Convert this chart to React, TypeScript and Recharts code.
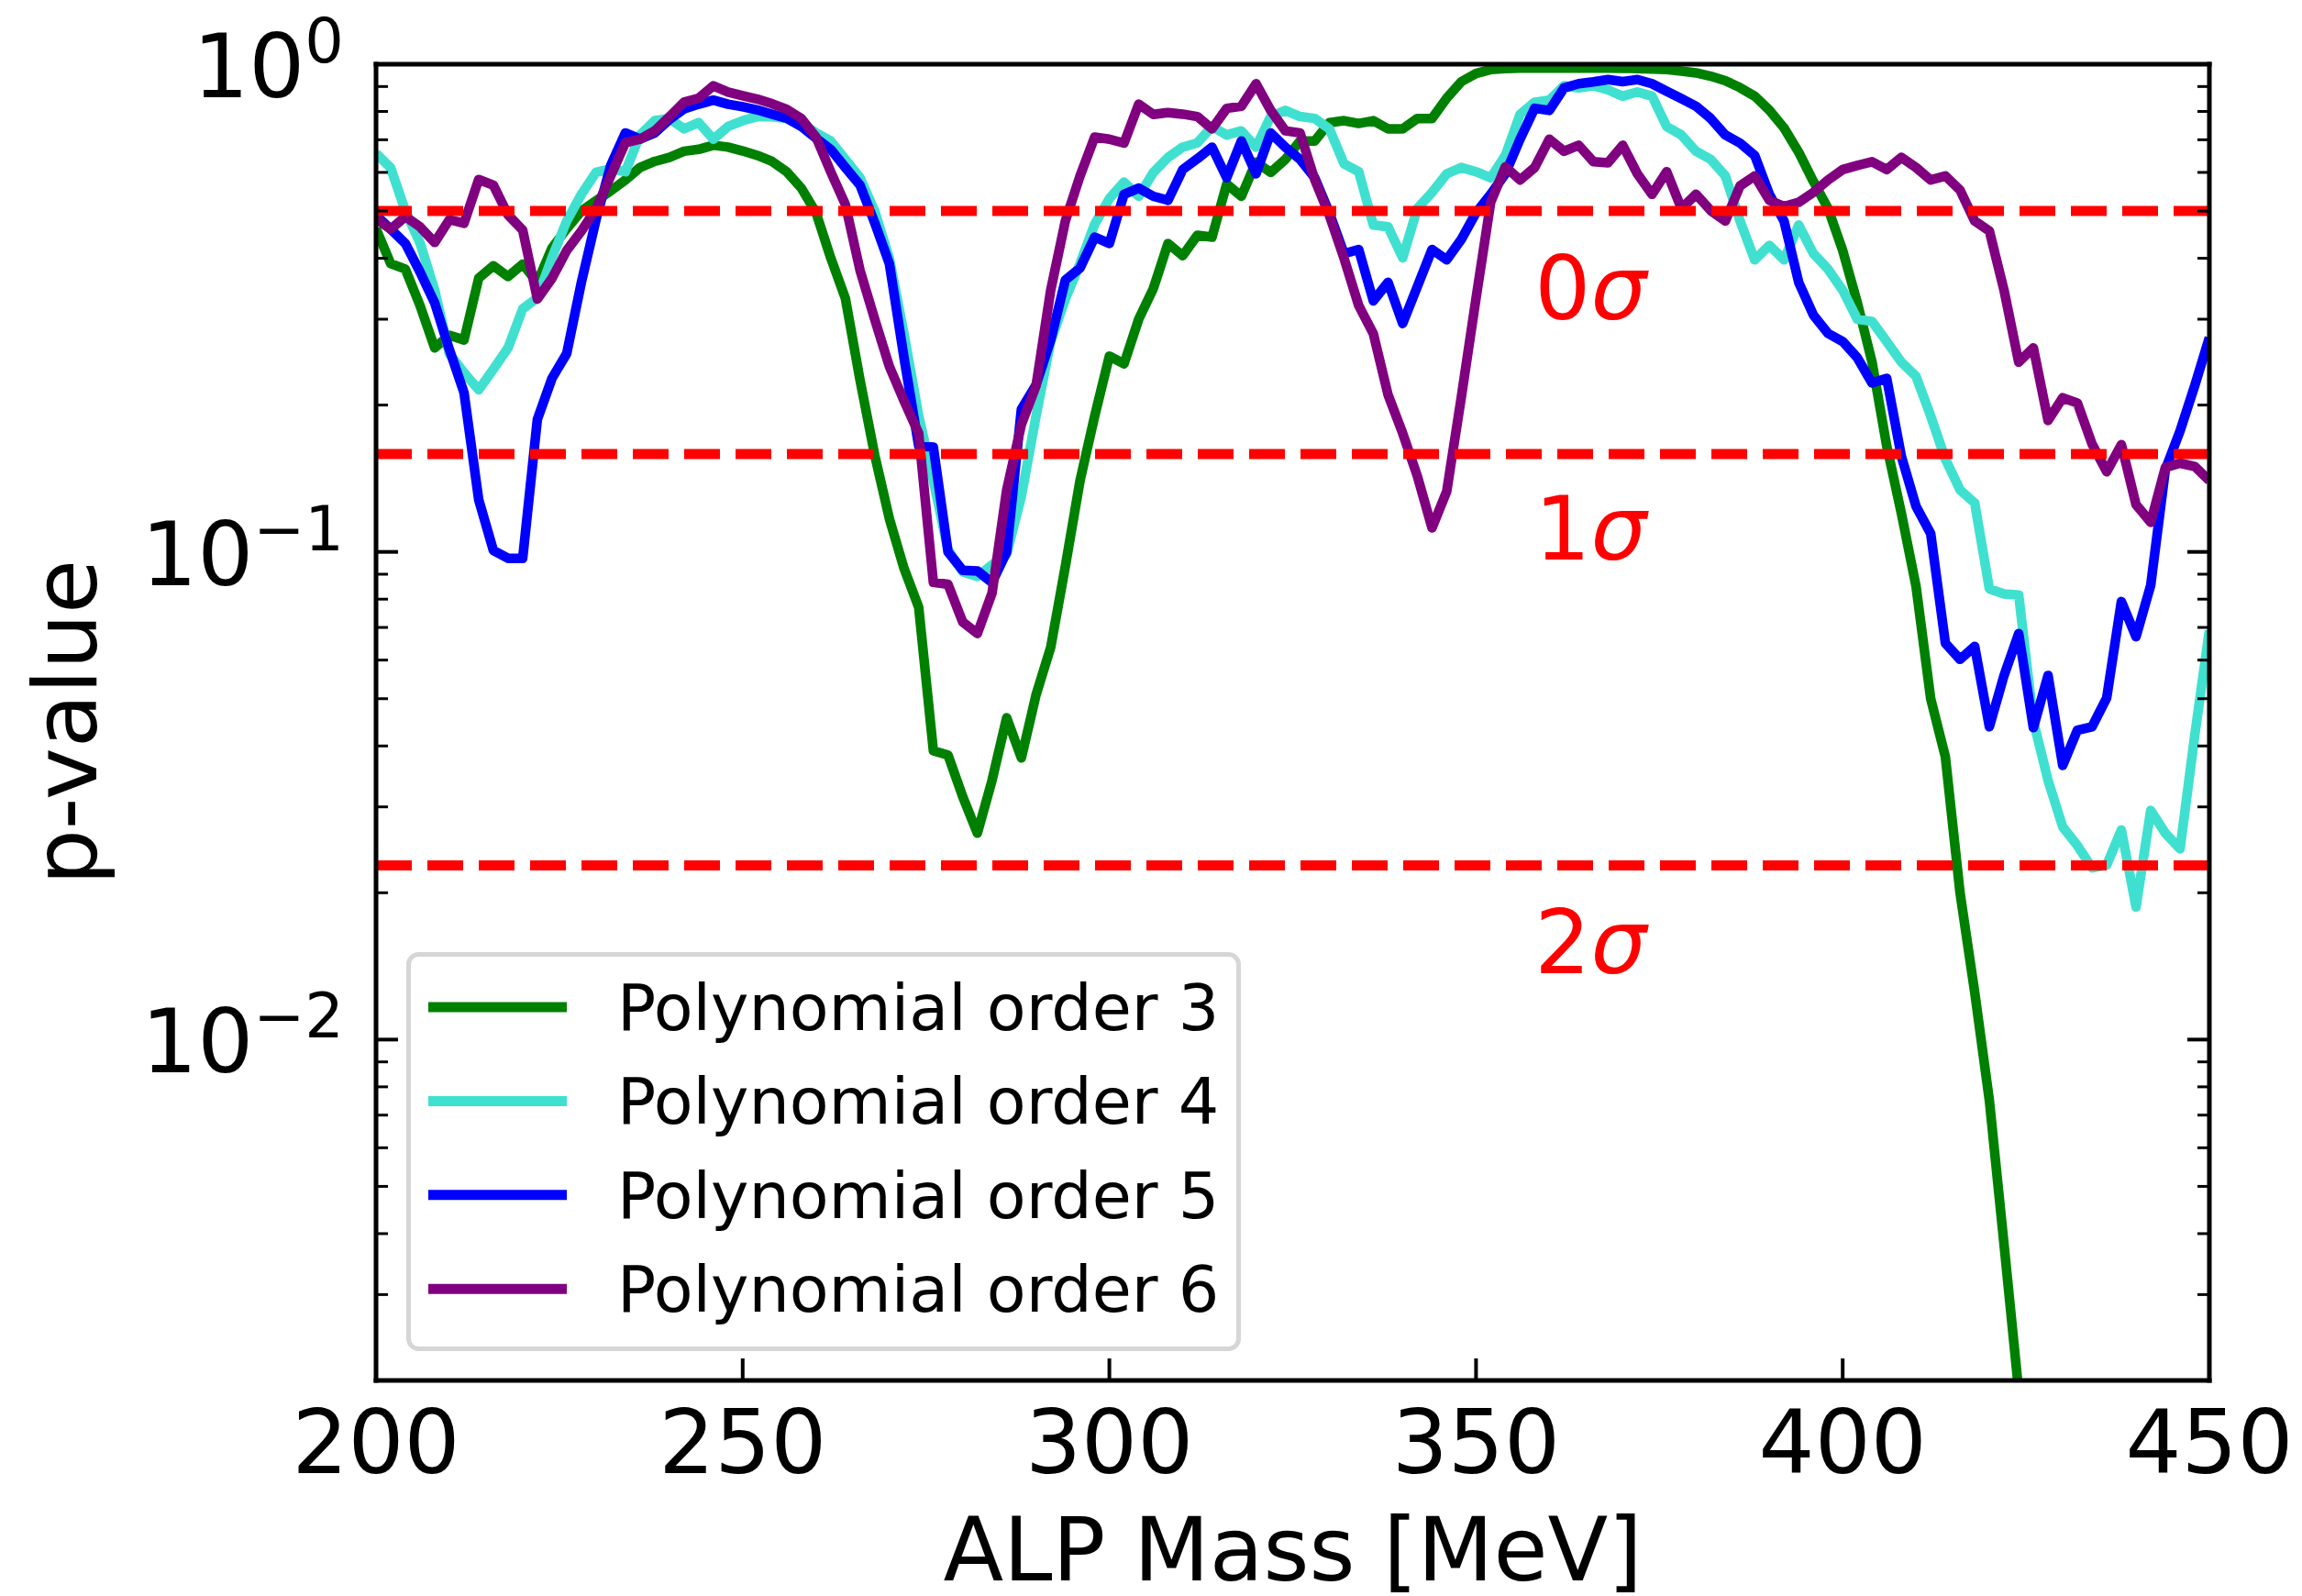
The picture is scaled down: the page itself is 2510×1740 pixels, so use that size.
import React from 'react';
import { LineChart, Line, XAxis, YAxis, ReferenceLine, ReferenceDot, Legend } from 'recharts';

const FONT = '"DejaVu Sans", sans-serif';

// ALP mass grid [MeV]
const MASS = [
  200, 202, 204, 206, 208, 210, 212, 214, 216, 218,
  220, 222, 224, 226, 228, 230, 232, 234, 236, 238,
  240, 242, 244, 246, 248, 250, 252, 254, 256, 258,
  260, 262, 264, 266, 268, 270, 272, 274, 276, 278,
  280, 282, 284, 286, 288, 290, 292, 294, 296, 298,
  300, 302, 304, 306, 308, 310, 312, 314, 316, 318,
  320, 322, 324, 326, 328, 330, 332, 334, 336, 338,
  340, 342, 344, 346, 348, 350, 352, 354, 356, 358,
  360, 362, 364, 366, 368, 370, 372, 374, 376, 378,
  380, 382, 384, 386, 388, 390, 392, 394, 396, 398,
  400, 402, 404, 406, 408, 410, 412, 414, 416, 418,
  420, 422, 424, 426, 428, 430, 432, 434, 436, 438,
  440, 442, 444, 446, 448, 450,
];

const ORDER3 = [
  0.46, 0.39, 0.38, 0.32, 0.262, 0.278, 0.272, 0.364, 0.386, 0.367,
  0.389, 0.357, 0.42, 0.46, 0.5, 0.525, 0.55, 0.579, 0.614, 0.632,
  0.644, 0.663, 0.669, 0.682, 0.676, 0.664, 0.65, 0.632, 0.602, 0.557,
  0.496, 0.401, 0.331, 0.225, 0.158, 0.117, 0.0925, 0.077, 0.0391, 0.0383,
  0.0315, 0.0265, 0.034, 0.0457, 0.0378, 0.0509, 0.0637, 0.0935, 0.14, 0.19,
  0.252, 0.243, 0.3, 0.347, 0.429, 0.405, 0.446, 0.442, 0.568, 0.536,
  0.63, 0.6, 0.638, 0.696, 0.696, 0.759, 0.766, 0.756, 0.766, 0.737,
  0.737, 0.774, 0.774, 0.852, 0.921, 0.957, 0.975, 0.98, 0.982, 0.982,
  0.982, 0.982, 0.982, 0.982, 0.982, 0.981, 0.98, 0.978, 0.975, 0.968,
  0.96, 0.945, 0.925, 0.895, 0.86, 0.805, 0.74, 0.66, 0.575, 0.506,
  0.415, 0.324, 0.245, 0.165, 0.12, 0.085, 0.05, 0.038, 0.02, 0.0125,
  0.0075, 0.0038, 0.0019, 0.0011, null, null, null, null, null, null,
  null, null, null, null, null, null,
];

const ORDER4 = [
  0.656, 0.613, 0.5, 0.43, 0.344, 0.255, 0.233, 0.215, 0.237, 0.262,
  0.315, 0.332, 0.401, 0.477, 0.541, 0.6, 0.61, 0.602, 0.716, 0.766,
  0.774, 0.737, 0.759, 0.702, 0.745, 0.766, 0.781, 0.78, 0.774, 0.759,
  0.723, 0.696, 0.638, 0.585, 0.5, 0.4, 0.28, 0.19, 0.14, 0.101,
  0.091, 0.089, 0.094, 0.099, 0.13, 0.19, 0.27, 0.33, 0.39, 0.47,
  0.53, 0.573, 0.536, 0.6, 0.644, 0.676, 0.69, 0.745, 0.716, 0.73,
  0.676, 0.781, 0.804, 0.781, 0.774, 0.737, 0.625, 0.602, 0.468, 0.464,
  0.401, 0.506, 0.546, 0.596, 0.614, 0.602, 0.585, 0.65, 0.789, 0.836,
  0.844, 0.903, 0.894, 0.903, 0.886, 0.86, 0.877, 0.86, 0.745, 0.716,
  0.663, 0.638, 0.59, 0.477, 0.397, 0.425, 0.397, 0.468, 0.409, 0.38,
  0.344, 0.3, 0.297, 0.27, 0.245, 0.229, 0.19, 0.155, 0.134, 0.126,
  0.084, 0.082, 0.0816, 0.045, 0.034, 0.0273, 0.025, 0.0225, 0.0228, 0.0269,
  0.0187, 0.0295, 0.0265, 0.0246, 0.042, 0.069,
];

const ORDER5 = [
  0.49, 0.459, 0.429, 0.375, 0.324, 0.26, 0.212, 0.128, 0.1007, 0.097,
  0.097, 0.187, 0.227, 0.255, 0.357, 0.48, 0.62, 0.723, 0.702, 0.723,
  0.77, 0.81, 0.828, 0.844, 0.828, 0.818, 0.806, 0.79, 0.775, 0.745,
  0.705, 0.669, 0.614, 0.565, 0.473, 0.39, 0.25, 0.165, 0.164, 0.1,
  0.0917, 0.0914, 0.0865, 0.1, 0.196, 0.22, 0.272, 0.361, 0.382, 0.442,
  0.429, 0.541, 0.557, 0.536, 0.526, 0.608, 0.64, 0.676, 0.585, 0.696,
  0.596, 0.723, 0.676, 0.638, 0.585, 0.496, 0.409, 0.417, 0.327, 0.357,
  0.294, 0.35, 0.417, 0.397, 0.4375, 0.496, 0.541, 0.596, 0.702, 0.812,
  0.804, 0.894, 0.912, 0.92, 0.93, 0.921, 0.93, 0.912, 0.88, 0.85,
  0.82, 0.774, 0.716, 0.689, 0.65, 0.541, 0.477, 0.357, 0.306, 0.2805,
  0.27, 0.25, 0.222, 0.227, 0.157, 0.124, 0.109, 0.065, 0.0602, 0.064,
  0.0438, 0.0558, 0.068, 0.0436, 0.0558, 0.0365, 0.0431, 0.0438, 0.0502, 0.0791,
  0.067, 0.0854, 0.1475, 0.177, 0.219, 0.275,
];

const ORDER6 = [
  0.482, 0.459, 0.487, 0.464, 0.431, 0.48, 0.472, 0.58, 0.565, 0.491,
  0.457, 0.33, 0.364, 0.415, 0.455, 0.505, 0.59, 0.69, 0.702, 0.73,
  0.78, 0.836, 0.852, 0.903, 0.877, 0.862, 0.848, 0.83, 0.808, 0.774,
  0.709, 0.602, 0.516, 0.378, 0.3, 0.24, 0.204, 0.175, 0.0866, 0.0858,
  0.0718, 0.068, 0.0823, 0.134, 0.1824, 0.219, 0.344, 0.477, 0.59, 0.709,
  0.702, 0.689, 0.828, 0.789, 0.796, 0.79, 0.781, 0.737, 0.812, 0.82,
  0.912, 0.804, 0.73, 0.723, 0.58, 0.49, 0.4, 0.32, 0.28, 0.21,
  0.175, 0.143, 0.112, 0.133, 0.208, 0.331, 0.521, 0.616, 0.579, 0.614,
  0.702, 0.663, 0.682, 0.631, 0.628, 0.682, 0.596, 0.541, 0.602, 0.506,
  0.541, 0.501, 0.477, 0.563, 0.59, 0.526, 0.511, 0.521, 0.546, 0.579,
  0.608, 0.62, 0.631, 0.608, 0.644, 0.614, 0.579, 0.59, 0.552, 0.477,
  0.455, 0.344, 0.245, 0.262, 0.186, 0.207, 0.202, 0.1665, 0.146, 0.166,
  0.125, 0.115, 0.149, 0.152, 0.1497, 0.14,
];

const SERIES_NAMES = ['Polynomial order 3', 'Polynomial order 4', 'Polynomial order 5', 'Polynomial order 6'];
const SERIES_COLORS = ['#008000', '#40e0d0', '#0000ff', '#800080'];
const SERIES_VALUES = [ORDER3, ORDER4, ORDER5, ORDER6];

const X_TICKS = [200, 250, 300, 350, 400, 450];
const Y_TICKS = [
  0.003, 0.004, 0.005, 0.006, 0.007, 0.008, 0.009,
  0.01, 0.02, 0.03, 0.04, 0.05, 0.06, 0.07, 0.08, 0.09,
  0.1, 0.2, 0.3, 0.4, 0.5, 0.6, 0.7, 0.8, 0.9, 1,
];
const X_DOMAIN = [200, 450];
const Y_DOMAIN = [0.002, 1];

// significance levels (one-sided p-values) and their labels
const SIGMA_P = [0.5, 0.1587, 0.02275];
const SIGMA_TEXT = ['0', '1', '2'];
const SIGMA_LABEL_MASS = 358;
const SIGMA_LABEL_P = [0.3, 0.0965, 0.0137];

const CHART_W = 2494;
const CHART_H = 1732;
const LEFT_W = 402;
const RIGHT_W = 93;
const TOP_H = 62;
const BOTTOM_H = 235;

const MAJOR = 24;
const MINOR = 13;

const isMajor = (v: number) => {
  const e = Math.log10(v);
  return Math.abs(e - Math.round(e)) < 1e-9;
};

const BottomTick = (props: any) => {
  const { x, y, payload } = props;
  return (
    <g>
      <line x1={x} y1={y} x2={x} y2={y - MAJOR} stroke="#000" strokeWidth={4} />
      <text x={x} y={y + 101} textAnchor="middle" fontSize={96} fontFamily={FONT} fill="#000">
        {payload.value}
      </text>
    </g>
  );
};

const TopTick = (props: any) => {
  const { x, y } = props;
  return <line x1={x} y1={y} x2={x} y2={y + MAJOR} stroke="#000" strokeWidth={4} />;
};

const LeftTick = (props: any) => {
  const { x, y, payload } = props;
  const v = payload.value as number;
  const major = isMajor(v);
  const e = Math.round(Math.log10(v));
  const expText = e < 0 ? '\u2212' + String(-e) : String(e);
  return (
    <g>
      <line x1={x} y1={y} x2={x + (major ? MAJOR : MINOR)} y2={y} stroke="#000" strokeWidth={major ? 4 : 3} />
      {major && (
        <text x={x - 35} y={y + 36} textAnchor="end" fontSize={96} fontFamily={FONT} fill="#000">
          10
          <tspan dy={-38} fontSize={67}>{expText}</tspan>
        </text>
      )}
    </g>
  );
};

const RightTick = (props: any) => {
  const { x, y, payload } = props;
  const major = isMajor(payload.value as number);
  return (
    <line x1={x} y1={y} x2={x - (major ? MAJOR : MINOR)} y2={y} stroke="#000" strokeWidth={major ? 4 : 3} />
  );
};

const XTitle = (props: any) => {
  const vb = props.viewBox;
  return (
    <text x={vb.x + vb.width / 2} y={vb.y + 218} textAnchor="middle" fontSize={96} fontFamily={FONT} fill="#000">
      ALP Mass [MeV]
    </text>
  );
};

const YTitle = (props: any) => {
  const vb = props.viewBox;
  const cx = vb.x + 97;
  const cy = vb.y + vb.height / 2;
  return (
    <text x={cx} y={cy} transform={`rotate(-90, ${cx}, ${cy})`} textAnchor="middle" fontSize={96} fontFamily={FONT} fill="#000">
      p-value
    </text>
  );
};

const makeSigmaLabel = (n: string) => (props: any) => {
  const vb = props.viewBox;
  return (
    <text x={vb.x} y={vb.y} textAnchor="start" fontSize={96} fontFamily={FONT} fill="#ff0000">
      {n}
      <tspan fontStyle="italic">σ</tspan>
    </text>
  );
};

const LEG_W = 912;
const LEG_H = 437;

const renderLegend = (props: any) => {
  const payload = (props && props.payload && props.payload.length === 4)
    ? props.payload
    : SERIES_NAMES.map((n, i) => ({ value: n, color: SERIES_COLORS[i] }));
  return (
    <svg width={LEG_W} height={LEG_H} style={{ display: 'block' }}>
      <rect x={2.5} y={2.5} width={LEG_W - 7} height={LEG_H - 7} rx={11} ry={11}
        fill="rgba(255,255,255,0.8)" stroke="#d6d6d6" strokeWidth={5} />
      {payload.map((entry: any, i: number) => {
        const cy = 60 + i * 102.4;
        return (
          <g key={entry.value}>
            <line x1={24} x2={175} y1={cy} y2={cy} stroke={entry.color} strokeWidth={11} />
            <text x={230} y={cy + 25} fontSize={70} fontFamily={FONT} fill="#000">{entry.value}</text>
          </g>
        );
      })}
    </svg>
  );
};

export default function App() {
  const seriesData = SERIES_VALUES.map((vals) =>
    MASS.map((m, i) => ({ m, p: vals[i] })).filter((d) => d.p !== null && d.p !== undefined)
  );
  const axisLine = { stroke: '#000', strokeWidth: 5, strokeLinecap: 'square' as const };

  return (
    <div style={{ width: CHART_W, height: CHART_H, background: '#fff' }}>
      <LineChart width={CHART_W} height={CHART_H} margin={{ top: 0, right: 0, bottom: 0, left: 0 }}>
        <XAxis
          xAxisId={0}
          dataKey="m"
          type="number"
          domain={X_DOMAIN}
          allowDataOverflow
          ticks={X_TICKS}
          interval={0}
          height={BOTTOM_H}
          tickSize={0}
          tickMargin={0}
          tickLine={false}
          axisLine={axisLine}
          tick={BottomTick}
          label={XTitle}
        />
        <XAxis
          xAxisId="top"
          orientation="top"
          type="number"
          domain={X_DOMAIN}
          allowDataOverflow
          ticks={X_TICKS}
          interval={0}
          height={TOP_H}
          tickSize={0}
          tickMargin={0}
          tickLine={false}
          axisLine={axisLine}
          tick={TopTick}
        />
        <YAxis
          yAxisId={0}
          type="number"
          scale="log"
          domain={Y_DOMAIN}
          allowDataOverflow
          ticks={Y_TICKS}
          interval={0}
          width={LEFT_W}
          tickSize={0}
          tickMargin={0}
          tickLine={false}
          axisLine={axisLine}
          tick={LeftTick}
          label={YTitle}
        />
        <YAxis
          yAxisId="right"
          orientation="right"
          type="number"
          scale="log"
          domain={Y_DOMAIN}
          allowDataOverflow
          ticks={Y_TICKS}
          interval={0}
          width={RIGHT_W}
          tickSize={0}
          tickMargin={0}
          tickLine={false}
          axisLine={axisLine}
          tick={RightTick}
        />
        {seriesData.map((d, i) => (
          <Line
            key={SERIES_NAMES[i]}
            name={SERIES_NAMES[i]}
            data={d}
            dataKey="p"
            type="linear"
            stroke={SERIES_COLORS[i]}
            strokeWidth={10.5}
            strokeLinejoin="round"
            dot={false}
            activeDot={false}
            isAnimationActive={false}
          />
        ))}
        {SIGMA_P.map((p, i) => (
          <ReferenceLine
            key={'sl' + i}
            y={p}
            stroke="#ff0000"
            strokeWidth={11}
            strokeDasharray="39 17"
          />
        ))}
        {SIGMA_LABEL_P.map((p, i) => (
          <ReferenceDot
            key={'sd' + i}
            x={SIGMA_LABEL_MASS}
            y={p}
            r={0}
            fill="none"
            stroke="none"
            ifOverflow="visible"
            label={makeSigmaLabel(SIGMA_TEXT[i])}
          />
        ))}
        <Legend
          layout="vertical"
          align="center"
          verticalAlign="middle"
          width={LEG_W}
          height={LEG_H}
          wrapperStyle={{ left: 435, top: 1030, width: LEG_W, height: LEG_H }}
          content={renderLegend}
        />
      </LineChart>
    </div>
  );
}
